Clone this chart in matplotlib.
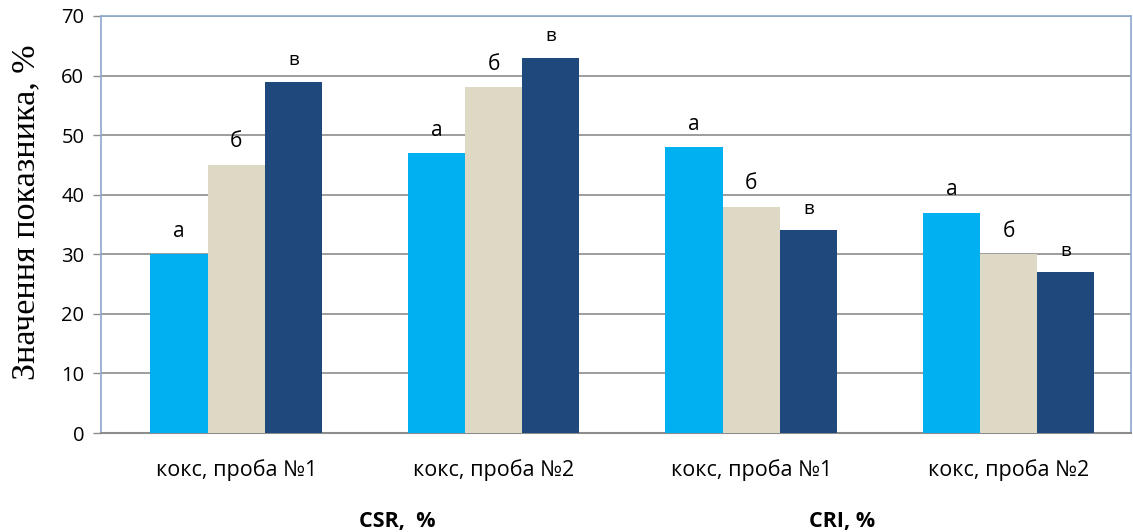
import matplotlib.pyplot as plt
import numpy as np

categories = ["кокс, проба №1", "кокс, проба №2", "кокс, проба №1", "кокс, проба №2"]
series_a = [30, 47, 48, 37]
series_b = [45, 58, 38, 30]
series_v = [59, 63, 34, 27]
bar_letters = ["а", "б", "в"]
group_titles = ["CSR,  %", "CRI, %"]

COLORS = ["#00B0F0", "#DDD9C4", "#1F497D"]
SANS = ["Open Sans", "DejaVu Sans"]
SERIF = ["Liberation Serif", "DejaVu Serif"]

fig = plt.figure(figsize=(11.33, 5.32), dpi=100)
ax = fig.add_axes([0.0891, 0.186, 0.9091, 0.784])

x = np.arange(len(categories))
width = 0.222
for i, vals in enumerate([series_a, series_b, series_v]):
    pos = x + (i - 1) * width
    ax.bar(pos, vals, width=width, color=COLORS[i], zorder=3)
    for px, v in zip(pos, vals):
        fs = 13.5 if bar_letters[i] == "в" else 15
        ax.annotate(bar_letters[i], (px, v), xytext=(0, 9),
                    textcoords="offset points", ha="center", va="bottom",
                    fontsize=fs, family=SANS)

ax.set_xlim(-0.525, 3.475)
ax.set_ylim(0, 70)
ax.set_yticks(range(0, 71, 10))
ax.yaxis.grid(True, color="#8c8c8c", lw=1.2, zorder=0)
ax.set_axisbelow(True)

ax.set_xticks(x)
ax.set_xticklabels(categories, fontsize=15.5, family=SANS)
ax.tick_params(axis="x", length=0, pad=19)
ax.tick_params(axis="y", length=6, width=1, color="#8c8c8c", pad=6)
for lbl in ax.get_yticklabels():
    lbl.set_fontsize(14.5)
    lbl.set_family(SANS)

for side in ["left", "right", "top"]:
    ax.spines[side].set_color("#8DA9CC")
    ax.spines[side].set_linewidth(1.2)
ax.spines["bottom"].set_color("#8c8c8c")
ax.spines["bottom"].set_linewidth(1.5)

ax.set_ylabel("Значення показника, %", fontsize=24.5, family=SERIF)
ax.yaxis.set_label_coords(-0.058, 0.53)

fig.text(397 / 1133, 1 - 521 / 532, group_titles[0], ha="center", va="center",
         fontsize=15.5, fontweight="bold", family=SANS)
fig.text(842 / 1133, 1 - 521 / 532, group_titles[1], ha="center", va="center",
         fontsize=15.5, fontweight="bold", family=SANS)

fig.savefig("out.png", dpi=100)
